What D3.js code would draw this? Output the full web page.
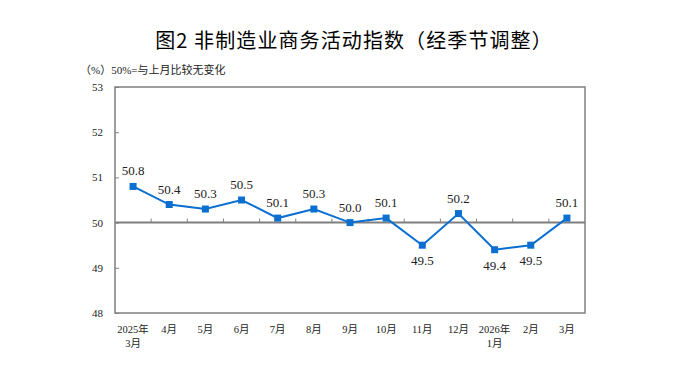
<!DOCTYPE html>
<meta charset="utf-8">
<script src="https://d3js.org/d3.v7.min.js"></script>
<style>
  body { margin: 0; background: #fff; }
</style>
<div id="my_dataviz"></div>
<script>

// categories (two-line labels) and values
var months = [["2025年", "3月"], ["4月"], ["5月"], ["6月"], ["7月"], ["8月"], ["9月"], ["10月"], ["11月"], ["12月"], ["2026年", "1月"], ["2月"], ["3月"]];
var values = [50.8, 50.4, 50.3, 50.5, 50.1, 50.3, 50.0, 50.1, 49.5, 50.2, 49.4, 49.5, 50.1];
var yTicks = [48, 49, 50, 51, 52, 53];

var W = 682, H = 371;
var margin = {top: 87, right: 97, bottom: 58, left: 115},
    width = W - margin.left - margin.right,
    height = H - margin.top - margin.bottom;

var svg = d3.select("#my_dataviz")
  .append("svg")
    .attr("width", W)
    .attr("height", H);

// title
svg.append("text")
  .attr("x", 354)
  .attr("y", 48)
  .style("text-anchor", "middle")
  .style("font-family", "'Noto Sans CJK SC'")
  .style("font-size", "20px")
  .style("letter-spacing", "1.1px")
  .style("fill", "#000")
  .text("图2  非制造业商务活动指数（经季节调整）");

// unit note
svg.append("text")
  .attr("x", 80)
  .attr("y", 74)
  .style("font-family", "'Liberation Serif', 'Noto Sans CJK SC'")
  .style("font-size", "11px")
  .style("fill", "#222")
  .text("（%）50%=与上月比较无变化");

var g = svg.append("g")
  .attr("transform", "translate(" + margin.left + "," + margin.top + ")");

var x = d3.scaleBand()
  .domain(d3.range(months.length))
  .range([0, width]);

var y = d3.scaleLinear()
  .domain([48, 53])
  .range([height, 0]);

// frame
g.append("rect")
  .attr("x", 0).attr("y", 0)
  .attr("width", width).attr("height", height)
  .style("fill", "none")
  .style("stroke", "#7f7f7f")
  .style("stroke-width", 1.5);

// y axis ticks and labels
var yAxis = g.append("g")
  .call(d3.axisLeft(y).tickValues(yTicks).tickSize(-4).tickPadding(12).tickFormat(d3.format("d")));
yAxis.select(".domain").remove();
yAxis.selectAll("line").style("stroke", "#7f7f7f");
yAxis.selectAll("text")
  .style("font-family", "'Liberation Serif'")
  .style("font-size", "11px")
  .style("fill", "#222");

// 50 baseline with category ticks pointing up
g.append("line")
  .attr("x1", 0).attr("x2", width)
  .attr("y1", y(50)).attr("y2", y(50))
  .style("stroke", "#7f7f7f")
  .style("stroke-width", 2);

g.selectAll(".ctick")
  .data(d3.range(1, months.length))
  .enter()
  .append("line")
    .attr("x1", function(d) { return x(d) })
    .attr("x2", function(d) { return x(d) })
    .attr("y1", y(50))
    .attr("y2", y(50) - 4)
    .style("stroke", "#7f7f7f")
    .style("stroke-width", 1);

// x labels
var xl = g.selectAll(".xl")
  .data(months)
  .enter()
  .append("text")
    .attr("x", function(d, i) { return x(i) + x.bandwidth() / 2 })
    .attr("y", height + 20)
    .style("text-anchor", "middle")
    .style("font-family", "'Liberation Serif', 'Noto Sans CJK SC'")
    .style("font-size", "10.5px")
    .style("fill", "#222");
xl.selectAll("tspan")
  .data(function(d) { return d })
  .enter()
  .append("tspan")
    .attr("x", function() { return d3.select(this.parentNode).attr("x") })
    .attr("dy", function(d, i) { return i === 0 ? 0 : 14 })
    .text(function(d) { return d });

// line
g.append("path")
  .datum(values)
  .attr("d", d3.line()
    .x(function(d, i) { return x(i) + x.bandwidth() / 2 })
    .y(function(d) { return y(d) })
  )
  .style("fill", "none")
  .style("stroke", "#0a6fd0")
  .style("stroke-width", 2);

// square markers
g.selectAll(".pt")
  .data(values)
  .enter()
  .append("rect")
    .attr("x", function(d, i) { return x(i) + x.bandwidth() / 2 - 3.5 })
    .attr("y", function(d) { return y(d) - 3.5 })
    .attr("width", 7)
    .attr("height", 7)
    .style("fill", "#0a6fd0");

// value labels
g.selectAll(".vl")
  .data(values)
  .enter()
  .append("text")
    .attr("x", function(d, i) { return x(i) + x.bandwidth() / 2 })
    .attr("y", function(d) { return d < 50 ? y(d) + 20 : y(d) - 11 })
    .style("text-anchor", "middle")
    .style("font-family", "'Liberation Serif'")
    .style("font-size", "13px")
    .style("fill", "#222")
    .text(function(d) { return d.toFixed(1) });

</script>
